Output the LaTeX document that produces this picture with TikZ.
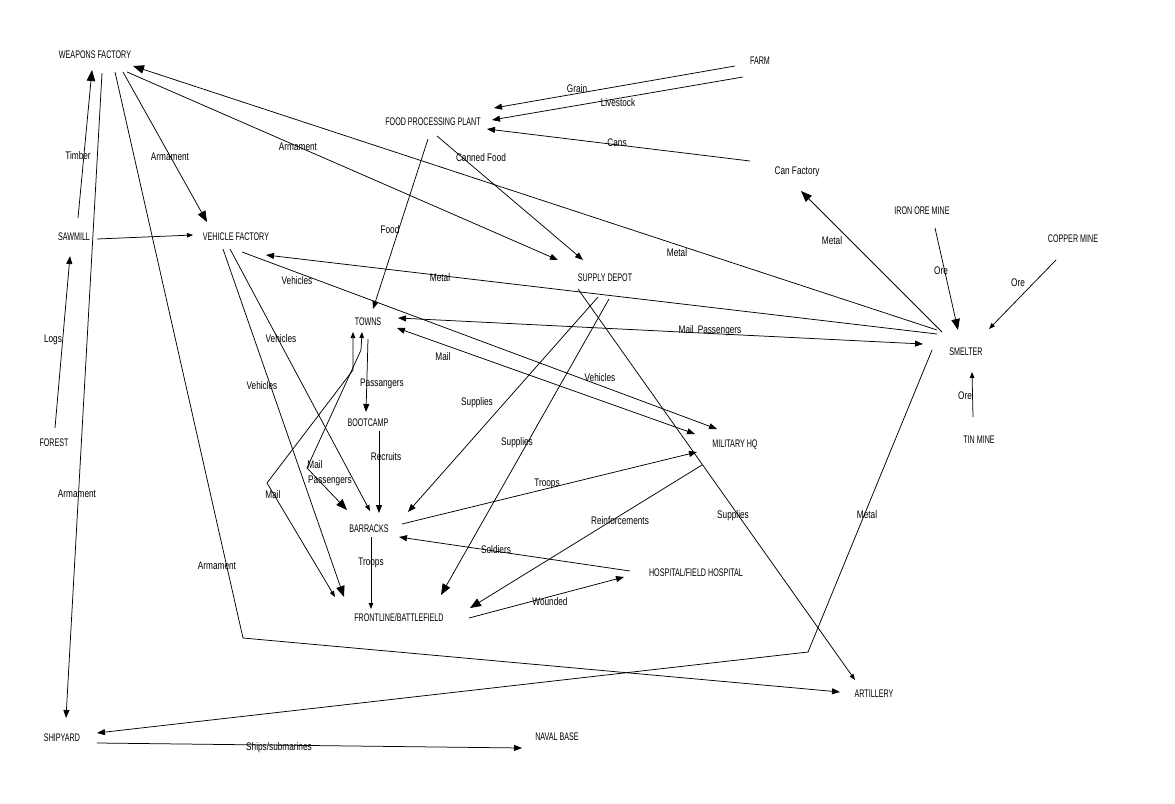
\documentclass[tikz,border=0pt]{standalone}
\usepackage{fontspec}
\usetikzlibrary{calc,arrows.meta}
\newfontfamily\stnfont[FakeStretch=0.65]{Liberation Sans}
\newfontfamily\lblfont[FakeStretch=0.75]{Liberation Sans}
\tikzset{
  ln/.style={line width=0.75pt},
  tm/.style={ln,-{Triangle[length=8pt,width=6pt]}},
  tb/.style={ln,-{Triangle[length=11pt,width=8.5pt]}},
  ts/.style={ln,-{Triangle[length=6pt,width=4.5pt]}},
  tmm/.style={ln,{Triangle[length=8pt,width=6pt]}-{Triangle[length=8pt,width=6pt]}},
  tss/.style={ln,{Triangle[length=6pt,width=4.5pt]}-{Triangle[length=6pt,width=4.5pt]}},
  tsb/.style={ln,{Triangle[length=6pt,width=4.5pt]}-{Triangle[length=11pt,width=8.5pt]}},
  stn/.style={font=\stnfont\fontsize{11}{12}\selectfont, inner sep=0pt},
  lbl/.style={font=\lblfont\fontsize{11}{12}\selectfont, inner sep=0pt},
}
\begin{document}
\begin{tikzpicture}[x=1pt,y=-1pt]
\fill[white] (0,0) rectangle (1175,803);
\useasboundingbox (0,0) rectangle (1175,803);
% stations
\node[stn] (wf) at (95,55) {WEAPONS FACTORY};
\node[stn] (farm) at (760,61) {FARM};
\node[stn] (fpp) at (433,122) {FOOD PROCESSING PLANT};
\node[lbl] (canf) at (797,172) {Can Factory};
\node[stn] (iron) at (922,211) {IRON ORE MINE};
\node[stn] (copper) at (1073,239) {COPPER MINE};
\node[stn] (smelter) at (966,352) {SMELTER};
\node[stn] (tin) at (979,440) {TIN MINE};
\node[stn] (sawmill) at (74,237) {SAWMILL};
\node[stn] (vf) at (236,237) {VEHICLE FACTORY};
\node[stn] (forest) at (54,443) {FOREST};
\node[stn] (towns) at (368,322) {TOWNS};
\node[stn] (boot) at (368,423) {BOOTCAMP};
\node[stn] (sd) at (605,278) {SUPPLY DEPOT};
\node[stn] (mhq) at (735,445) {MILITARY HQ};
\node[stn] (barracks) at (369,529) {BARRACKS};
\node[stn] (front) at (399,618) {FRONTLINE/BATTLEFIELD};
\node[stn] (hosp) at (696,573) {HOSPITAL/FIELD HOSPITAL};
\node[stn] (art) at (874,694) {ARTILLERY};
\node[stn] (ship) at (62,738) {SHIPYARD};
\node[stn] (naval) at (557,737) {NAVAL BASE};
% connectors
\draw[tb] ($(sawmill)+(4,-19)$) -- ($(wf)+(-3,15)$) node[lbl] (l1) at (78,156) {Timber};
\draw[tm] ($(wf)+(7,18)$) -- ($(ship)+(4,-20)$) node[lbl] (l2) at (77,494) {Armament};
\draw[tm] ($(wf)+(20,17)$) -- (243,638) -- ($(art)+(-34,-2)$) node[lbl] (l3) at (217,566) {Armament};
\draw[tb] ($(wf)+(28,17)$) -- ($(vf)+(-29,-15)$) node[lbl] (l4) at (170,157) {Armament};
\draw[tm] ($(wf)+(32,17)$) -- ($(sd)+(-47,-18)$) node[lbl] (l5) at (298,147) {Armament};
\draw[tb] ($(smelter)+(-29,-22)$) -- ($(wf)+(38,11)$) node[lbl] (l6) at (677,253) {Metal};
\draw[tm] ($(farm)+(-25,5)$) -- ($(fpp)+(61,-14)$) node[lbl] (l7) at (577,89) {Grain};
\draw[tm] ($(farm)+(-17,16)$) -- ($(fpp)+(59,-2)$) node[lbl] (l8) at (618,103) {Livestock};
\draw[tm] ($(canf)+(-47,-11)$) -- ($(fpp)+(54,7)$) node[lbl] (l9) at (617,143) {Cans};
\draw[tm] ($(fpp)+(-5,17)$) -- ($(towns)+(5,-13)$) node[lbl] (l10) at (390,230) {Food};
\draw[tm] ($(fpp)+(4,14)$) -- ($(sd)+(-22,-18)$) node[lbl] (l11) at (481,158) {Canned Food};
\draw[tb] ($(smelter)+(-24,-20)$) -- ($(canf)+(4,19)$) node[lbl] (l12) at (832,241) {Metal};
\draw[tb] ($(iron)+(13,17)$) -- ($(smelter)+(-8,-22)$) node[lbl] (l13) at (941,271) {Ore};
\draw[ts] ($(copper)+(-17,21)$) -- ($(smelter)+(23,-23)$) node[lbl] (l14) at (1018,283) {Ore};
\draw[ts] ($(tin)+(-6,-23)$) -- ($(smelter)+(6,20)$) node[lbl] (l15) at (965,396) {Ore};
\draw[ts] ($(sawmill)+(23,2)$) -- ($(vf)+(-43,-2)$);
\draw[tm] ($(forest)+(1,-15)$) -- ($(sawmill)+(-4,19)$) node[lbl] (l17) at (53,340) {Logs};
\draw[tm] ($(smelter)+(-29,-18)$) -- ($(vf)+(30,18)$) node[lbl] (l18) at (440,278) {Metal};
\draw[tmm] ($(towns)+(30,-4)$) -- ($(smelter)+(-43,-8)$) node[lbl] (l19) at (710,331) {Mail\hspace{4pt}Passengers};
\draw[tmm] ($(towns)+(29,6)$) -- ($(mhq)+(-40,-11)$) node[lbl] (l20) at (443,357) {Mail};
\draw[tm] ($(vf)+(6,15)$) -- ($(mhq)+(-18,-16)$) node[lbl] (l21a) at (297,281) {Vehicles} node[lbl] (l21b) at (600,378) {Vehicles};
\draw[ts] ($(vf)+(-6,12)$) -- ($(barracks)+(1,-18)$) node[lbl] (l22) at (281,339) {Vehicles};
\draw[tb] ($(vf)+(-13,12)$) -- ($(front)+(-55,-21)$) node[lbl] (l23) at (262,386) {Vehicles};
\draw[tss] ($(towns)+(-15,10)$) -- (353,370) -- (267,483) -- ($(front)+(-64,-21)$) node[lbl] (l24) at (273,495) {Mail};
\draw[tsb] ($(towns)+(-6,10)$) -- (361,350) -- (307,468) -- ($(barracks)+(-22,-19)$) node[lbl] (l25a) at (315,465) {Mail} node[lbl] (l25b) at (330,481) {Passengers};
\draw[tm] ($(towns)+(0,17)$) -- ($(boot)+(-2,-11)$) node[lbl] (l26) at (382,384) {Passangers};
\draw[tm] ($(boot)+(11,8)$) -- ($(barracks)+(10,-16)$) node[lbl] (l27) at (386,457) {Recruits};
\draw[tm] ($(sd)+(-7,19)$) -- ($(barracks)+(39,-17)$) node[lbl] (l28) at (477,403) {Supplies};
\draw[tb] ($(sd)+(4,21)$) -- ($(front)+(42,-23)$) node[lbl] (l29) at (517,443) {Supplies};
\draw[ts] ($(sd)+(-27,11)$) -- ($(art)+(-19,-14)$) node[lbl] (l30) at (733,516) {Supplies};
\draw[tm] ($(smelter)+(-34,-2)$) -- (808,652) -- ($(ship)+(35,-5)$) node[lbl] (l31) at (867,515) {Metal};
\draw[tm] ($(barracks)+(33,-5)$) -- ($(mhq)+(-38,7)$) node[lbl] (l32) at (547,484) {Troops};
\draw[tb] ($(mhq)+(-33,20)$) -- ($(front)+(71,-10)$) node[lbl] (l33) at (620,521) {Reinforcements};
\draw[tm] ($(hosp)+(-66,-2)$) -- ($(barracks)+(30,8)$) node[lbl] (l34) at (496,550) {Soldiers};
\draw[tm] ($(front)+(70,0)$) -- ($(hosp)+(-72,4)$) node[lbl] (l35) at (550,602) {Wounded};
\draw[ts] ($(barracks)+(2,8)$) -- ($(front)+(-28,-9)$) node[lbl] (l36) at (371,563) {Troops};
\draw[tm] ($(ship)+(35,5)$) -- ($(naval)+(-35,11)$) node[lbl] (l37) at (279,748) {Ships/submarines};
\end{tikzpicture}
\end{document}
